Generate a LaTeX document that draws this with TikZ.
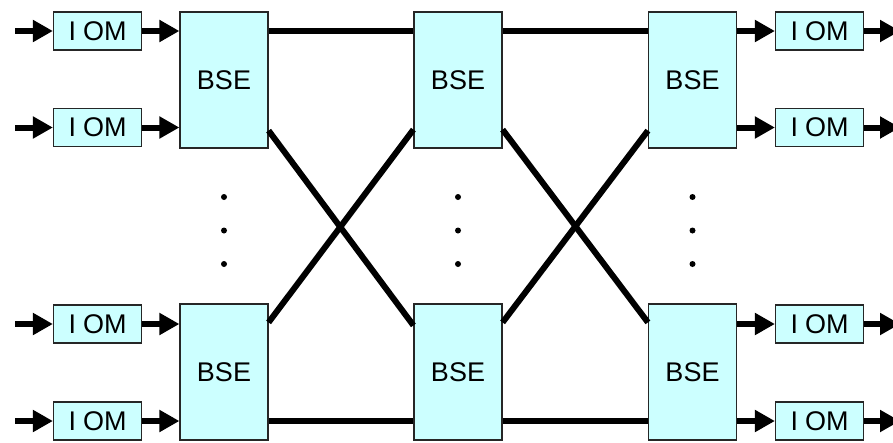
\documentclass[tikz,border=0pt]{standalone}
\usepackage{fontspec}
\setmainfont{Liberation Sans}
\usetikzlibrary{arrows.meta}
\definecolor{boxfill}{HTML}{CCFFFF}
\begin{document}
\begin{tikzpicture}[x=1pt,y=-1pt,
  bse/.style={draw=black!85,line width=1.2pt,fill=boxfill,minimum width=88pt,minimum height=136pt,inner sep=0pt,font=\fontsize{27}{29}\selectfont},
  iom/.style={draw=black!85,line width=1.2pt,fill=boxfill,minimum width=88pt,minimum height=38pt,inner sep=0pt,font=\fontsize{27}{29}\selectfont},
  arr/.style={line width=6pt,-{Triangle[length=20pt,width=21pt]}},
  link/.style={line width=6pt},
  dot/.style={circle,fill=black,inner sep=0pt,minimum size=6pt}]
\useasboundingbox (0,0) rectangle (893,442);
% BSE nodes
\node[bse] (L1) at (224,80) {BSE};
\node[bse] (L2) at (224,372) {BSE};
\node[bse] (M1) at (458,80) {BSE};
\node[bse] (M2) at (458,372) {BSE};
\node[bse] (R1) at (692.5,80) {BSE};
\node[bse] (R2) at (692.5,372) {BSE};
% IOM nodes
\node[iom] (a1) at (97.5,31) {I\kern7pt OM};
\node[iom] (a2) at (97.5,127.5) {I\kern7pt OM};
\node[iom] (a3) at (97.5,324) {I\kern7pt OM};
\node[iom] (a4) at (97.5,421) {I\kern7pt OM};
\node[iom] (b1) at (819.5,31) {I\kern7pt OM};
\node[iom] (b2) at (819.5,127.5) {I\kern7pt OM};
\node[iom] (b3) at (819.5,324) {I\kern7pt OM};
\node[iom] (b4) at (819.5,421) {I\kern7pt OM};
% free ends
\coordinate (i1) at (15,31);
\coordinate (i2) at (15,127.5);
\coordinate (i3) at (15,324);
\coordinate (i4) at (15,421);
\coordinate (o1) at (900,31);
\coordinate (o2) at (900,127.5);
\coordinate (o3) at (900,324);
\coordinate (o4) at (900,421);
% input arrows
\foreach \k in {1,2,3,4}{
  \draw[arr] (i\k) -- (a\k.west);
}
\draw[arr] (a1.east) -- (a1.east -| L1.west);
\draw[arr] (a2.east) -- (a2.east -| L1.west);
\draw[arr] (a3.east) -- (a3.east -| L2.west);
\draw[arr] (a4.east) -- (a4.east -| L2.west);
% output arrows
\draw[arr] (b1.west -| R1.east) -- (b1.west);
\draw[arr] (b2.west -| R1.east) -- (b2.west);
\draw[arr] (b3.west -| R2.east) -- (b3.west);
\draw[arr] (b4.west -| R2.east) -- (b4.west);
\foreach \k in {1,2,3,4}{
  \draw[arr] (b\k.east) -- (o\k);
}
% straight links
\draw[link] (a1.east -| L1.east) -- (a1.east -| M1.west);
\draw[link] (a1.east -| M1.east) -- (a1.east -| R1.west);
\draw[link] (a4.east -| L2.east) -- (a4.east -| M2.west);
\draw[link] (a4.east -| M2.east) -- (a4.east -| R2.west);
% crossing links
\draw[link] ([yshift=18pt]L1.south east) -- ([yshift=-22pt]M2.north west);
\draw[link] ([yshift=-19pt]L2.north east) -- ([yshift=19pt]M1.south west);
\draw[link] ([yshift=19pt]M1.south east) -- ([yshift=-19pt]R2.north west);
\draw[link] ([yshift=-19pt]M2.north east) -- ([yshift=18pt]R1.south west);
% dots
\foreach \x/\n in {224/l,458/m,692.5/r}{
  \node[dot] (\n1) at (\x,197) {};
  \node[dot] (\n2) at (\x,230.5) {};
  \node[dot] (\n3) at (\x,264) {};
}
\end{tikzpicture}
\end{document}
